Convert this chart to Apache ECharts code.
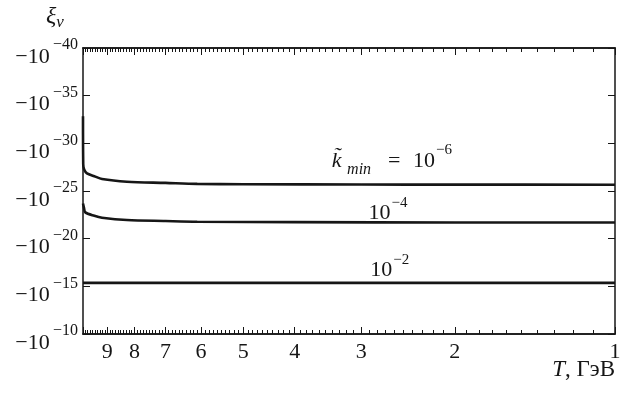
<!DOCTYPE html>
<html>
<head>
<meta charset="utf-8">
<script src="https://cdn.jsdelivr.net/npm/echarts@6/dist/echarts.min.js"></script>
<style>html,body{margin:0;padding:0;background:#fff}#c{width:628px;height:394px}</style>
</head>
<body>
<div id="c"></div>
<script>
// Data (T in GeV, xi_nu values; negative)
const T6 = [10.0, 9.99, 9.95, 9.83, 9.52, 9.21, 8.27, 7.0, 6.1, 5.0, 3.0, 2.0, 1.0];
const xi6 = [-1.45e-33, -1.58e-28, -5.6e-28, -1.41e-27, -2.82e-27, -5.62e-27, -1.07e-26, -1.41e-26, -1.78e-26, -1.95e-26, -2.09e-26, -2.14e-26, -2.19e-26];
const T4 = [10.0, 9.96, 9.9, 9.52, 9.21, 8.27, 7.0, 6.1, 4.0, 2.0, 1.0];
const xi4 = [-2.09e-24, -5.5e-24, -1.74e-23, -3.98e-23, -6.31e-23, -1.12e-22, -1.41e-22, -1.66e-22, -1.86e-22, -2.0e-22, -2.04e-22];
const T2 = [10.0, 5.0, 2.0, 1.0];
const xi2 = [-4.37e-16, -4.37e-16, -4.37e-16, -4.37e-16];

const xMajorTicks = [1, 2, 3, 4, 5, 6, 7, 8, 9, 10];
const xTickLabels = [1, 2, 3, 4, 5, 6, 7, 8, 9];
const yTickValues = [1e-40, 1e-35, 1e-30, 1e-25, 1e-20, 1e-15, 1e-10];
const xMinorTicks = [];
for (let i = 11; i < 100; i++) { if (i % 10 !== 0) xMinorTicks.push(i / 10); }

const annotT = [2.63, 2.67, 2.65];
const annotXi = [-1.32e-29, -4.3e-24, -4.1e-18];
const annotText = ['{k|k̃}{sub|min}{eq|=}{n|10}{s|−6}', '{n|10}{s|−4}', '{n|10}{s|−2}'];

const FONT = '"Liberation Serif", "DejaVu Serif", serif';
const INK = '#161616';
const richAnnot = {
  n: { fontFamily: FONT, fontSize: 22, color: INK, padding: [14, 0, 0, 0], width: 23 },
  s: { fontFamily: FONT, fontSize: 15, color: INK, padding: [0, 0, 7, 0], width: 17 },
  k: { fontFamily: FONT, fontSize: 22, fontStyle: 'italic', color: INK, padding: [14, 0, 0, 0], width: 12 },
  sub: { fontFamily: FONT, fontSize: 16, fontStyle: 'italic', color: INK, padding: [31, 0, 0, 0], width: 33 },
  eq: { fontFamily: FONT, fontSize: 22, color: INK, padding: [14, 0, 0, 0], width: 37, align: 'center' }
};
const richAxis = {
  n: { fontFamily: FONT, fontSize: 22, color: INK, padding: [18, 0, 0, 0], width: 37, align: 'right' },
  s: { fontFamily: FONT, fontSize: 16, color: INK, padding: [0, 0, 6, 0], width: 29, align: 'left' }
};

const GRID = { left: 83, right: 13, top: 48, bottom: 60, containLabel: false };

function xAxisDef(grid, pos, ticks, len, labels) {
  return {
    gridIndex: grid,
    type: 'log', logBase: 10, min: 1, max: 10, inverse: true, position: pos,
    axisLine: { show: true, onZero: false, lineStyle: { color: INK, width: 1.5 } },
    axisTick: { show: true, inside: true, length: len, customValues: ticks, lineStyle: { color: INK, width: 1 } },
    axisLabel: labels ? {
      show: true, customValues: labels, margin: 7,
      fontFamily: FONT, fontSize: 22, color: INK,
      formatter: v => String(Math.round(v))
    } : { show: false },
    splitLine: { show: false }, minorTick: { show: false }
  };
}
function yAxisDef(pos, labels) {
  return {
    gridIndex: 0,
    type: 'log', logBase: 10, min: 1e-40, max: 1e-10, inverse: true, position: pos,
    axisLine: { show: true, onZero: false, lineStyle: { color: INK, width: 1.5 } },
    axisTick: { show: true, inside: true, length: 7, customValues: yTickValues, lineStyle: { color: INK, width: 1 } },
    axisLabel: labels ? {
      show: true, customValues: yTickValues, margin: 3,
      formatter: v => '{n|−10}{s|−' + Math.round(-Math.log10(v)) + '}',
      rich: richAxis
    } : { show: false },
    splitLine: { show: false }
  };
}
function hiddenY(grid) {
  return { gridIndex: grid, type: 'value', show: false, min: 0, max: 1 };
}

function lineSeries(T, xi, idx) {
  return {
    type: 'line', xAxisIndex: 0, yAxisIndex: 0,
    data: T.map((t, i) => [t, Math.abs(xi[i])]),
    showSymbol: false, smooth: 0.3, silent: true,
    lineStyle: { color: INK, width: 2.6 },
    markPoint: {
      symbol: 'circle', symbolSize: 0, silent: true,
      label: { show: true, position: 'inside', formatter: annotText[idx], rich: richAnnot },
      data: [{ coord: [annotT[idx], Math.abs(annotXi[idx])] }]
    }
  };
}

const chart = echarts.init(document.getElementById('c'));
chart.setOption({
  animation: false,
  backgroundColor: '#fff',
  grid: [GRID, GRID, GRID, GRID],
  xAxis: [
    xAxisDef(0, 'bottom', xMajorTicks, 7, xTickLabels),
    xAxisDef(1, 'bottom', xMinorTicks, 4, null),
    xAxisDef(2, 'top', xMajorTicks, 7, null),
    xAxisDef(3, 'top', xMinorTicks, 4, null)
  ],
  yAxis: [yAxisDef('left', true), yAxisDef('right', false), hiddenY(1), hiddenY(2), hiddenY(3)],
  series: [lineSeries(T6, xi6, 0), lineSeries(T4, xi4, 1), lineSeries(T2, xi2, 2)],
  graphic: [
    { type: 'text', left: 46, top: 5, style: {
      text: '{x|ξ}{v|ν}',
      rich: {
        x: { fontFamily: FONT, fontSize: 24, fontStyle: 'italic', fill: INK, color: INK },
        v: { fontFamily: FONT, fontSize: 17, fontStyle: 'italic', fill: INK, color: INK, padding: [12, 0, 0, 0] }
      }
    } },
    { type: 'text', right: 13, top: 358, style: {
      text: '{i|T}{n|, ГэВ}',
      rich: {
        i: { fontFamily: FONT, fontSize: 23, fontStyle: 'italic', fill: INK, color: INK },
        n: { fontFamily: FONT, fontSize: 23, fill: INK, color: INK }
      }
    } }
  ]
});
</script>
</body>
</html>
